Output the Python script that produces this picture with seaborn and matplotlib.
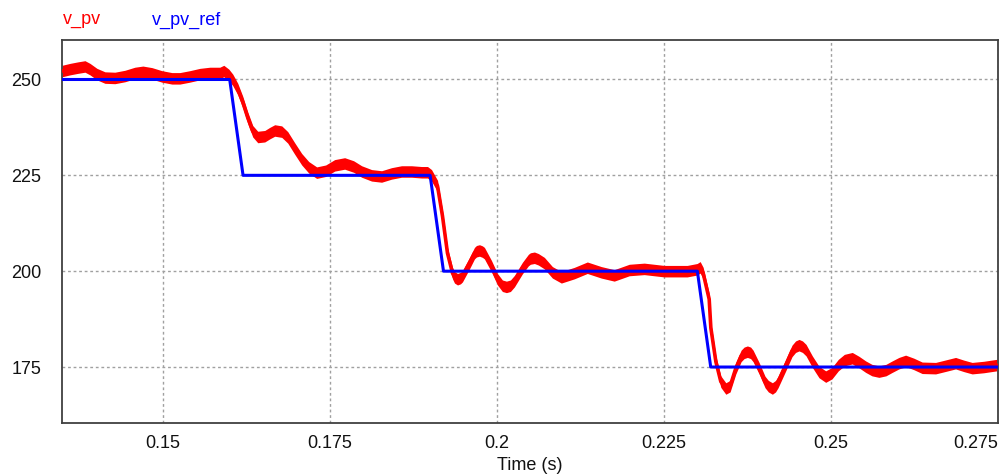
import numpy as np
import pandas as pd
import matplotlib
matplotlib.use("Agg")
import matplotlib.pyplot as plt
import seaborn as sns

# ---- data ----
t_pv = [0.13490, 0.13610, 0.13729, 0.13834, 0.13909, 0.14013, 0.14133, 0.14282, 0.14432, 0.14581,
        0.14701, 0.14836, 0.14985, 0.15135, 0.15254, 0.15404, 0.15553, 0.15703, 0.15852, 0.15912,
        0.15987, 0.16046, 0.16121, 0.16196, 0.16271, 0.16345, 0.16420, 0.16525, 0.16599, 0.16674,
        0.16779, 0.16869, 0.16973, 0.17078, 0.17183, 0.17302, 0.17437, 0.17571, 0.17721, 0.17855,
        0.17975, 0.18124, 0.18274, 0.18423, 0.18572, 0.18722, 0.18871, 0.18961, 0.19021, 0.19111,
        0.19185, 0.19260, 0.19335, 0.19365, 0.19410, 0.19455, 0.19484, 0.19589, 0.19664, 0.19694,
        0.19739, 0.19783, 0.19813, 0.19918, 0.20008, 0.20082, 0.20142, 0.20202, 0.20262, 0.20381,
        0.20471, 0.20501, 0.20561, 0.20620, 0.20710, 0.20830, 0.20964, 0.21159,
        0.21353, 0.21562, 0.21756, 0.21981, 0.22205, 0.22504, 0.22848, 0.22997, 0.23042, 0.23087,
        0.23132, 0.23177, 0.23202, 0.23277, 0.23351, 0.23426, 0.23490, 0.23576, 0.23655, 0.23700,
        0.23749, 0.23797, 0.23834, 0.23924, 0.24013, 0.24063, 0.24123, 0.24170, 0.24208, 0.24323,
        0.24417, 0.24470, 0.24522, 0.24574, 0.24627, 0.24721,
        0.24821, 0.24921, 0.25015, 0.25110, 0.25200, 0.25319, 0.25419, 0.25519, 0.25613, 0.25718,
        0.25823, 0.25917, 0.26017, 0.26117, 0.26241, 0.26365, 0.26566, 0.26705, 0.26865, 0.26989,
        0.27113, 0.27287, 0.27480]
v_pv = [252.2, 252.7, 253.1, 253.4, 252.7, 251.4, 250.5, 250.4, 250.9, 251.7,
        252.0, 251.6, 250.8, 250.3, 250.3, 250.8, 251.4, 251.7, 251.7, 252.2,
        251.2, 249.9, 247.5, 244.1, 240.0, 236.5, 235.0, 235.2, 236.0, 236.7,
        236.4, 234.9, 232.0, 229.2, 227.1, 225.7, 226.2, 227.6, 228.1, 227.3,
        226.0, 225.0, 224.7, 225.5, 226.0, 226.0, 225.8, 225.8, 225.0, 222.2,
        214.4, 204.7, 199.5, 198.4, 197.9, 198.2, 198.7, 202.1, 204.7, 205.2,
        205.4, 205.1, 204.7, 201.3, 197.9, 196.2, 195.9, 196.2, 197.4, 200.8,
        202.9, 203.3, 203.5, 203.1, 202.1, 199.7, 198.4, 199.5,
        200.9, 199.7, 198.9, 200.3, 200.6, 200.0, 200.0, 200.5, 201.0, 199.5,
        196.1, 192.7, 185.2, 176.4, 171.2, 169.4, 170.0, 174.7, 177.9, 178.7,
        179.0, 178.7, 177.9, 174.7, 171.1, 170.0, 169.4, 170.0, 171.1, 175.5,
        179.2, 180.3, 180.7, 180.3, 179.4, 176.4,
        173.7, 172.5, 173.4, 175.5, 176.8, 177.3, 176.3, 175.1, 174.2, 173.8,
        174.2, 175.1, 176.0, 176.6, 175.8, 174.8, 174.7, 175.3, 176.0, 175.3,
        174.7, 175.0, 175.5]
ripple_half = 1.5  # half height of switching ripple band (V)

t_ref = [0.1349, 0.1600, 0.1620, 0.1900, 0.1920, 0.2300, 0.2320, 0.2750]
v_ref = [250, 250, 225, 225, 200, 200, 175, 175]

x_ticks = [0.15, 0.175, 0.2, 0.225, 0.25, 0.275]
x_ticklabels = ["0.15", "0.175", "0.2", "0.225", "0.25", "0.275"]
y_ticks = [175, 200, 225, 250]
y_ticklabels = ["175", "200", "225", "250"]

df_pv = pd.DataFrame({"t": t_pv, "v": v_pv})
df_ref = pd.DataFrame({"t": t_ref, "v": v_ref})

sns.set_style("white")
plt.rcParams['font.family'] = ['Liberation Sans', 'DejaVu Sans']

fig = plt.figure(figsize=(10, 4.75), dpi=100)
ax = fig.add_axes([0.062, 1 - 423 / 475, 0.998 - 0.062, (423 - 40) / 475])

red = "#ff0000"
blue = "#0000ff"

vp = np.array(v_pv)
ax.fill_between(t_pv, vp - ripple_half, vp + ripple_half, color=red, lw=0, zorder=2)
sns.lineplot(data=df_pv, x="t", y="v", ax=ax, color=red, lw=2.6, sort=False,
             estimator=None, zorder=3)
sns.lineplot(data=df_ref, x="t", y="v", ax=ax, color=blue, lw=2.2, sort=False,
             estimator=None, zorder=4)

ax.set_xlim(0.1349, 0.2750)
ax.set_ylim(160.4, 260.3)
ax.set_xticks(x_ticks)
ax.set_xticklabels(x_ticklabels)
ax.set_yticks(y_ticks)
ax.set_yticklabels(y_ticklabels)
ax.get_xticklabels()[-1].set_horizontalalignment("right")

ax.grid(True, color="#a0a0a0", linestyle=(0, (2, 2)), lw=1)
ax.tick_params(axis="both", direction="in", length=3, width=0.8, color="#a0a0a0",
               labelsize=13, labelcolor="#111111")
ax.tick_params(axis="x", pad=9)
ax.tick_params(axis="y", pad=15)
for s in ax.spines.values():
    s.set_color("#404040")
    s.set_linewidth(1.3)
    s.set_visible(True)

ax.set_xlabel("Time (s)", fontsize=13, labelpad=3, color="#111111")
ax.set_ylabel("")

fig.text(0.063, 1 - 20 / 475, "v_pv", color=red, fontsize=13, va="center", ha="left")
fig.text(0.152, 1 - 20 / 475, "v_pv_ref", color=blue, fontsize=13, va="center", ha="left")

fig.savefig("out.png", dpi=100)
